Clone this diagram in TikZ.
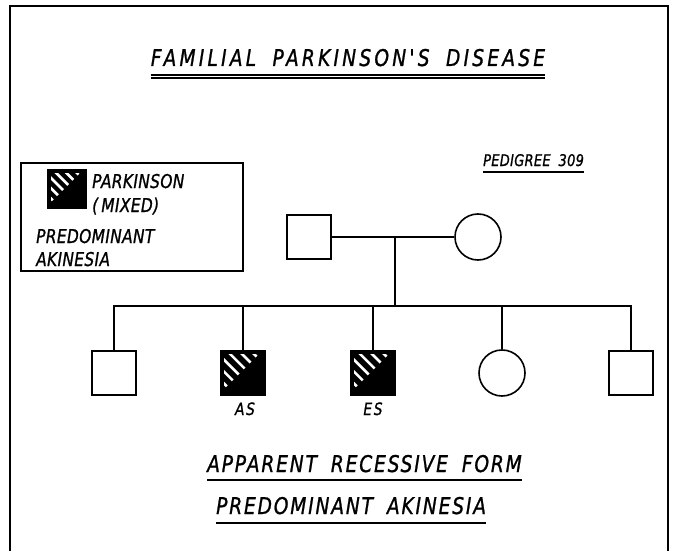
\documentclass[tikz,border=0pt]{standalone}
\usepackage{fontspec}
\setmainfont{DejaVu Sans}
\newfontfamily\leroy[WordSpace=1.8,FakeStretch=0.9,FakeBold=1]{DejaVu Sans Condensed Oblique}
\usetikzlibrary{calc}

\tikzset{
  % lettering: size / extra letter spacing
  lbl/.style 2 args={font={\leroy\addfontfeature{LetterSpace=#2}\fontsize{#1}{#1}\selectfont}, inner sep=0pt},
  keytxt/.style={font={\leroy\addfontfeature{LetterSpace=2}\fontsize{19}{24}\selectfont}, inner sep=0pt, anchor=base west},
  person/.style={draw, line width=1.6pt, inner sep=0pt},
  male/.style={person, rectangle, minimum width=44pt, minimum height=44pt},
  female/.style={person, circle, minimum size=46pt},
  hatched/.style={fill=black, path picture={
    \clip ($(path picture bounding box.north west)+(3pt,-3pt)$)
       -- ($(path picture bounding box.north east)+(-6pt,-3pt)$)
       -- ($(path picture bounding box.south west)+(3pt,6pt)$) -- cycle;
    \foreach \c in {0.33,0.6,0.87,1.14,1.41,1.68}
      \draw[white, line width=2.6pt]
        ($(path picture bounding box.south west)!\c!(path picture bounding box.north west)$)
        -- ($(path picture bounding box.south west)!\c!(path picture bounding box.south east)$);
  }},
  link/.style={line width=1.6pt},
  uline/.style={line width=1.4pt}
}

\begin{document}
\begin{tikzpicture}[x=1pt,y=-1pt]
\useasboundingbox (0,0) rectangle (678,551);

% outer frame, open at the bottom
\draw[line width=2pt] (10,551) -- (10,6) -- (668,6) -- (668,551);

% title with double underline
\node[lbl={23}{14}, anchor=base] (title) at (348,66) {FAMILIAL PARKINSON'S DISEASE};
\draw[uline] ([yshift=-9pt]title.base west) -- ([yshift=-9pt]title.base east);
\draw[uline] ([yshift=-12pt]title.base west) -- ([yshift=-12pt]title.base east);

% legend
\node[draw, line width=1.4pt, minimum width=222pt, minimum height=108pt, inner sep=0pt] (legend) at (132,217) {};
\node[male, hatched, minimum width=38pt, minimum height=38pt] (key) at (67,189) {};
\node[keytxt] (k1) at (92,188) {PARKINSON};
\node[keytxt] (k2) at (92,212) {(\,MIXED)};
\node[keytxt] (k3) at (36,243) {PREDOMINANT};
\node[keytxt] (k4) at (36,266) {AKINESIA};

% pedigree number
\node[lbl={16}{2}, anchor=base west] (ped) at (483,166) {PEDIGREE 309};
\draw[uline] ([yshift=-6pt]ped.base west) -- ([yshift=-6pt]ped.base east);

% parents
\node[male] (father) at (309,237) {};
\node[female] (mother) at (478,237) {};
\draw[link] (father) -- (mother);
\coordinate (mate) at (395,237);
\coordinate (sib) at (395,306);
\draw[link] (mate) -- (sib);

% children
\node[male] (c1) at (114,373) {};
\node[male, hatched] (as) at (243,373) {};
\node[male, hatched] (es) at (373,373) {};
\node[female] (c4) at (502,373) {};
\node[male] (c5) at (631,373) {};

\draw[link] (c1.north) -- (c1.north |- sib) -- (c5.north |- sib) -- (c5.north);
\foreach \k in {as,es,c4}
  \draw[link] (\k.north) -- (\k.north |- sib);

\node[lbl={17}{10}, anchor=base] (asl) at (245,415) {AS};
\node[lbl={17}{10}, anchor=base] (esl) at (373,415) {ES};

% caption
\node[lbl={23}{8}, anchor=base west] (cap1) at (207,472) {APPARENT RECESSIVE FORM};
\draw[uline] ([yshift=-8pt]cap1.base west) -- ([yshift=-8pt]cap1.base east);
\node[lbl={23}{8}, anchor=base west] (cap2) at (216,514) {PREDOMINANT AKINESIA};
\draw[uline] ([yshift=-9pt]cap2.base west) -- ([yshift=-9pt]cap2.base east);
\end{tikzpicture}
\end{document}
